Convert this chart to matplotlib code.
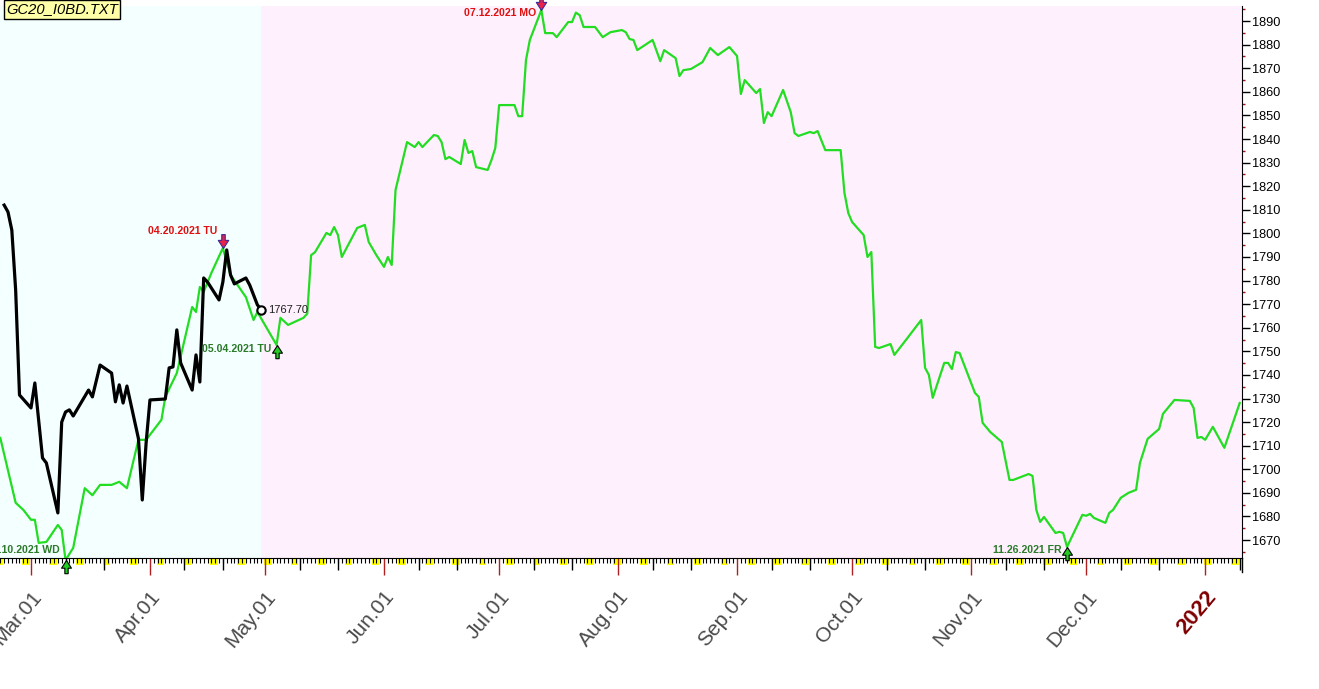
import matplotlib
matplotlib.use("Agg")
import matplotlib.pyplot as plt
import matplotlib.dates as mdates
from matplotlib.patches import Rectangle
from matplotlib.path import Path
from matplotlib.ticker import MultipleLocator
import pandas as pd

plt.rcParams['font.family'] = ['Liberation Sans', 'DejaVu Sans']

# actual closes (black line)
actual_dates = [
    "2021-02-22", "2021-02-23", "2021-02-24", "2021-02-25", "2021-02-26",
    "2021-03-01", "2021-03-02", "2021-03-04", "2021-03-05", "2021-03-08",
    "2021-03-09", "2021-03-10", "2021-03-11", "2021-03-12", "2021-03-16",
    "2021-03-17", "2021-03-19", "2021-03-22", "2021-03-23", "2021-03-24",
    "2021-03-25", "2021-03-26", "2021-03-29", "2021-03-30", "2021-03-31",
    "2021-04-01", "2021-04-05", "2021-04-06", "2021-04-07", "2021-04-08",
    "2021-04-09", "2021-04-12", "2021-04-13", "2021-04-14", "2021-04-15",
    "2021-04-16", "2021-04-19", "2021-04-20", "2021-04-21", "2021-04-22",
    "2021-04-23", "2021-04-26", "2021-04-27", "2021-04-29", "2021-04-30",
]
actual_close = [
    1812.0, 1809.1, 1801.4, 1776.0, 1731.5,
    1726.0, 1736.6, 1704.8, 1702.7, 1681.5,
    1720.0, 1724.3, 1725.2, 1722.6, 1733.6,
    1730.7, 1744.2, 1740.8, 1728.6, 1735.8,
    1728.1, 1735.3, 1713.0, 1687.0, 1711.2,
    1729.4, 1729.8, 1743.0, 1743.4, 1759.1,
    1745.1, 1733.6, 1748.5, 1737.0, 1781.1,
    1779.4, 1771.8, 1779.4, 1793.0, 1782.4,
    1778.6, 1781.1, 1778.1, 1769.7, 1767.7,
]

# projection (green line)
proj_dates = [
    "2021-02-21", "2021-02-25", "2021-02-27", "2021-03-01", "2021-03-02",
    "2021-03-03", "2021-03-05", "2021-03-08", "2021-03-09", "2021-03-10",
    "2021-03-12", "2021-03-15", "2021-03-17", "2021-03-19", "2021-03-22",
    "2021-03-24", "2021-03-26", "2021-03-29", "2021-03-31", "2021-04-04",
    "2021-04-05", "2021-04-08", "2021-04-12", "2021-04-13", "2021-04-14",
    "2021-04-15", "2021-04-17", "2021-04-20", "2021-04-22", "2021-04-26",
    "2021-04-28", "2021-04-29", "2021-05-04", "2021-05-05", "2021-05-07",
    "2021-05-11", "2021-05-12", "2021-05-13", "2021-05-14", "2021-05-17",
    "2021-05-18", "2021-05-19", "2021-05-20", "2021-05-21", "2021-05-25",
    "2021-05-27", "2021-05-28", "2021-05-30", "2021-06-01", "2021-06-02",
    "2021-06-03", "2021-06-04", "2021-06-07", "2021-06-09", "2021-06-10",
    "2021-06-11", "2021-06-14", "2021-06-15", "2021-06-16", "2021-06-17",
    "2021-06-18", "2021-06-21", "2021-06-22", "2021-06-23", "2021-06-24",
    "2021-06-25", "2021-06-28", "2021-06-29", "2021-06-30", "2021-07-01",
    "2021-07-05", "2021-07-06", "2021-07-07", "2021-07-08", "2021-07-09",
    "2021-07-12", "2021-07-13", "2021-07-15", "2021-07-16", "2021-07-19",
    "2021-07-20", "2021-07-21", "2021-07-22", "2021-07-23", "2021-07-26",
    "2021-07-28", "2021-07-30", "2021-08-02", "2021-08-03", "2021-08-04",
    "2021-08-05", "2021-08-06", "2021-08-10", "2021-08-12", "2021-08-13",
    "2021-08-16", "2021-08-17", "2021-08-18", "2021-08-20", "2021-08-23",
    "2021-08-25", "2021-08-27", "2021-08-30", "2021-09-01", "2021-09-02",
    "2021-09-03", "2021-09-06", "2021-09-07", "2021-09-08", "2021-09-09",
    "2021-09-10", "2021-09-13", "2021-09-15", "2021-09-16", "2021-09-17",
    "2021-09-20", "2021-09-21", "2021-09-22", "2021-09-24", "2021-09-28",
    "2021-09-29", "2021-09-30", "2021-10-01", "2021-10-04", "2021-10-05",
    "2021-10-06", "2021-10-07", "2021-10-08", "2021-10-11", "2021-10-12",
    "2021-10-15", "2021-10-19", "2021-10-20", "2021-10-21", "2021-10-22",
    "2021-10-25", "2021-10-26", "2021-10-27", "2021-10-28", "2021-10-29",
    "2021-11-02", "2021-11-03", "2021-11-04", "2021-11-06", "2021-11-09",
    "2021-11-11", "2021-11-12", "2021-11-16", "2021-11-17", "2021-11-18",
    "2021-11-19", "2021-11-20", "2021-11-23", "2021-11-24", "2021-11-25",
    "2021-11-26", "2021-11-30", "2021-12-01", "2021-12-02", "2021-12-03",
    "2021-12-06", "2021-12-07", "2021-12-08", "2021-12-10", "2021-12-12",
    "2021-12-14", "2021-12-15", "2021-12-17", "2021-12-20", "2021-12-21",
    "2021-12-24", "2021-12-28", "2021-12-29", "2021-12-30", "2021-12-31",
    "2022-01-01", "2022-01-03", "2022-01-06", "2022-01-10",
]
proj_values = [
    1713.3, 1685.8, 1682.8, 1678.6, 1678.6,
    1668.8, 1669.2, 1676.4, 1674.3, 1661.5,
    1666.7, 1692.0, 1689.0, 1693.4, 1693.4,
    1694.7, 1692.0, 1712.5, 1712.5, 1721.0,
    1730.7, 1740.8, 1768.8, 1766.7, 1777.3,
    1775.2, 1783.2, 1793.8, 1782.4, 1773.0,
    1763.3, 1766.7, 1752.7, 1764.2, 1761.2,
    1764.2, 1766.0, 1790.8, 1792.0, 1800.2,
    1799.3, 1802.7, 1799.3, 1790.0, 1802.3,
    1803.6, 1796.4, 1790.8, 1785.8, 1790.0,
    1786.6, 1818.4, 1838.7, 1836.6, 1838.7,
    1836.6, 1841.7, 1841.3, 1838.7, 1831.5,
    1832.4, 1829.4, 1839.6, 1834.1, 1834.9,
    1828.1, 1826.9, 1831.1, 1836.2, 1854.4,
    1854.4, 1849.7, 1849.7, 1873.5, 1882.0,
    1894.7, 1884.9, 1884.9, 1883.2, 1889.6,
    1889.6, 1893.6, 1892.5, 1887.5, 1887.5,
    1883.2, 1885.3, 1886.2, 1885.3, 1882.4,
    1882.0, 1877.7, 1882.0, 1873.0, 1877.7,
    1874.3, 1866.7, 1869.2, 1869.7, 1872.6,
    1878.6, 1875.6, 1879.0, 1875.2, 1859.1,
    1865.0, 1859.5, 1861.2, 1846.8, 1851.4,
    1849.7, 1860.8, 1851.4, 1842.5, 1841.3,
    1843.0, 1842.5, 1843.4, 1835.3, 1835.3,
    1817.1, 1808.6, 1804.8, 1799.3, 1790.0,
    1792.1, 1751.9, 1751.4, 1753.1, 1748.5,
    1754.8, 1763.3, 1743.0, 1740.0, 1730.3,
    1745.1, 1745.1, 1742.5, 1749.7, 1749.3,
    1732.4, 1730.7, 1719.7, 1715.8, 1711.6,
    1695.5, 1695.5, 1698.0, 1697.2, 1682.8,
    1677.7, 1679.8, 1673.0, 1673.5, 1673.0,
    1667.1, 1680.7, 1680.3, 1681.1, 1679.4,
    1677.3, 1681.5, 1682.8, 1687.9, 1690.0,
    1691.3, 1702.7, 1712.9, 1717.1, 1723.5,
    1729.4, 1729.0, 1726.0, 1713.3, 1713.7,
    1712.5, 1718.0, 1709.1, 1728.1,
]

# turning points of the projection
peak_dates = ["2021-04-20", "2021-07-12"]
peak_labels = ["04.20.2021 TU", "07.12.2021 MO"]
trough_dates = ["2021-03-10", "2021-05-04", "2021-11-26"]
trough_labels = ["03.10.2021 WD", "05.04.2021 TU", "11.26.2021 FR"]

title = "GC20_I0BD.TXT"
last_date = "2021-04-30"

W, H = 1319, 689
fig = plt.figure(figsize=(W / 100, H / 100), dpi=100)
ax = fig.add_axes([0, 1 - 558 / H, 1242 / W, 552 / H])

t_act = pd.to_datetime(actual_dates)
t_proj = pd.to_datetime(proj_dates)
proj = pd.Series(proj_values, index=t_proj)

x0 = mdates.date2num(pd.Timestamp("2021-03-01"))
xmin, xmax = x0 - 8.08, x0 + 315.6
ymin, ymax = 1662.4, 1896.4
split = mdates.date2num(pd.Timestamp(last_date))

# backgrounds: history / forecast
ax.axvspan(xmin, split, color="#F4FFFF", zorder=0, lw=0)
ax.axvspan(split, xmax, color="#FEF0FC", zorder=0, lw=0)

ax.plot(t_proj, proj_values, color="#22DD22", lw=1.6, zorder=3)
ax.plot(t_act, actual_close, color="black", lw=2.3, zorder=4)
ax.plot(t_act[-1:], actual_close[-1:], "o", ms=6, mfc="white", mec="black", mew=1.5, zorder=5)
ax.annotate("%.2f" % actual_close[-1], (t_act[-1], actual_close[-1]), xytext=(5, 0),
            textcoords="offset points", va="center", ha="left", fontsize=8, color="#202020")

# arrow markers
up_arrow = Path([(0, 0), (0.9, -1.4), (0.3, -1.4), (0.3, -2.4), (-0.3, -2.4), (-0.3, -1.4), (-0.9, -1.4), (0, 0)],
                [Path.MOVETO] + [Path.LINETO] * 6 + [Path.CLOSEPOLY])
down_arrow = Path([(0, 0), (0.9, 1.4), (0.3, 1.4), (0.3, 2.4), (-0.3, 2.4), (-0.3, 1.4), (-0.9, 1.4), (0, 0)],
                  [Path.MOVETO] + [Path.LINETO] * 6 + [Path.CLOSEPOLY])

for d, lab in zip(trough_dates, trough_labels):
    t = pd.Timestamp(d)
    v = proj[t]
    ax.plot([t], [v], marker=up_arrow, ms=19, mfc="#22CC22", mec="black", mew=0.8, clip_on=False, zorder=6)
    ax.annotate(lab, (t, max(v - 1.7, 1665.7)), xytext=(-4, 0), textcoords="offset points",
                ha="right", va="center", fontsize=7.6, fontweight="bold", color="#2A7A2A", zorder=6)

for d, lab in zip(peak_dates, peak_labels):
    t = pd.Timestamp(d)
    v = proj[t]
    ax.plot([t], [v], marker=down_arrow, ms=20, mfc="#E8204A", mec="#3A2A9A", mew=0.8, clip_on=False, zorder=6)
    ax.annotate(lab, (t, min(v + 7.2, 1893.4)), xytext=(-4, 0), textcoords="offset points",
                ha="right", va="center", fontsize=7.6, fontweight="bold", color="#E01010", zorder=6)

ax.set_xlim(xmin, xmax)
ax.set_ylim(ymin, ymax)

# spines
for s in ["top", "left"]:
    ax.spines[s].set_visible(False)
ax.spines["right"].set_color("black")
ax.spines["bottom"].set_color("black")
ax.plot([1, 1], [0, -14 / 552], transform=ax.transAxes, color="black", lw=1, clip_on=False)

# y axis on the right
ax.yaxis.tick_right()
ax.yaxis.set_major_locator(MultipleLocator(10))
ax.yaxis.set_minor_locator(MultipleLocator(5))
ax.tick_params(axis="y", which="major", length=6, width=1, color="black", labelsize=9.2, pad=1)
ax.tick_params(axis="y", which="minor", length=2.5, width=1, color="#A01010")

# x axis: month labels, daily ticks
month_ticks = pd.date_range("2021-03-01", "2022-01-01", freq="MS")
month_labels = [m.strftime("%Y") if m.month == 1 else m.strftime("%b.%d") for m in month_ticks]
ax.set_xticks(month_ticks, month_labels)
ax.xaxis.set_minor_locator(mdates.DayLocator())
ax.tick_params(axis="x", which="major", length=12, width=1, color="#B02020", labelsize=15,
               labelcolor="#4A4A4A", pad=9)
ax.tick_params(axis="x", which="minor", length=3.6, width=0.8, color="black")
for lbl in ax.get_xticklabels():
    lbl.set_rotation(50)
    lbl.set_ha("right")
    lbl.set_rotation_mode("anchor")
    if lbl.get_text() == "2022":
        lbl.set_color("#800000")
        lbl.set_fontweight("bold")
        lbl.set_fontsize(16)

xtr = ax.get_xaxis_transform()
days = pd.date_range("2021-02-20", "2022-01-12", freq="D")
tens = [d for d in days if d.day in (10, 20)]
ax.vlines(tens, -12 / 552, 0, transform=xtr, color="black", lw=1, clip_on=False, zorder=2)
for d in days[days.dayofweek == 5]:
    ax.add_patch(Rectangle((mdates.date2num(d) - 0.25, -7 / 552), 1.95, 6.5 / 552, transform=xtr,
                           facecolor="#FFFF00", edgecolor="none", clip_on=False, zorder=1))

fig.text(6 / W, 1 - 9.5 / H, title, fontsize=10.6, style="italic", ha="left", va="center",
         bbox=dict(boxstyle="square,pad=0.15", fc="#FFFFA8", ec="black", lw=1))

fig.savefig("out.png", dpi=100)
